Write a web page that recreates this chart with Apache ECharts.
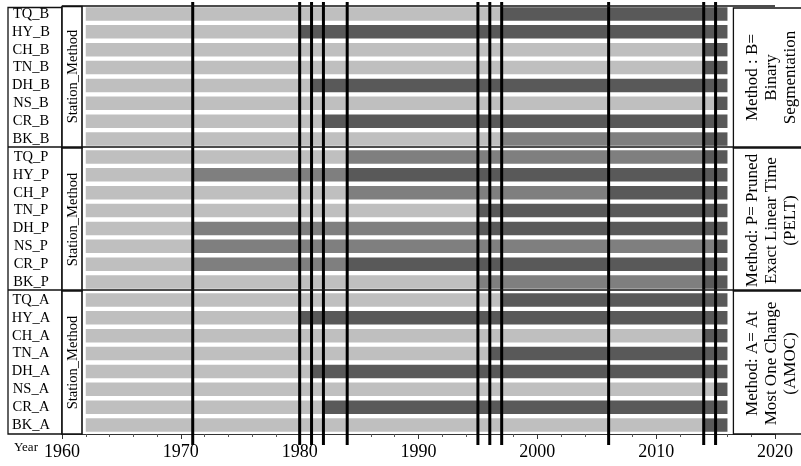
<!DOCTYPE html>
<html>
<head>
<meta charset="utf-8">
<script src="https://cdn.jsdelivr.net/npm/echarts@6/dist/echarts.min.js"></script>
<style>
html,body{margin:0;padding:0;background:#fff;}
#chart{width:801px;height:466px;}
</style>
</head>
<body>
<div id="chart"></div>
<script>
// ---------------- data ----------------
const stations = ['TQ', 'HY', 'CH', 'TN', 'DH', 'NS', 'CR', 'BK'];
const methods = ['B', 'P', 'A'];
const methodTitles = [
  'Method : B=\nBinary\nSegmentation',
  'Method: P= Pruned\nExact Linear Time\n(PELT)',
  'Method: A= At\nMost One Change\n(AMOC)'
];
const startYear = 1962;
const endYear = 2016;
const changeYears = [1971, 1980, 1981, 1982, 1984, 1995, 1996, 1997, 2006, 2014, 2015];
const xTicks = [1960, 1970, 1980, 1990, 2000, 2010, 2020];
// each row: list of [segment start year, level] ; level L=light, M=medium, D=dark
const segB = [
  [[1962, 'L'], [1997, 'D']],               // TQ_B
  [[1962, 'L'], [1980, 'D']],               // HY_B
  [[1962, 'L'], [2014, 'D']],               // CH_B
  [[1962, 'L'], [2014, 'D']],               // TN_B
  [[1962, 'L'], [1981, 'D']],               // DH_B
  [[1962, 'L'], [2015, 'D']],               // NS_B
  [[1962, 'L'], [1982, 'D']],               // CR_B
  [[1962, 'L'], [1997, 'M'], [2014, 'D']]   // BK_B
];
const segP = [
  [[1962, 'L'], [1984, 'M'], [2014, 'D']],  // TQ_P
  [[1962, 'L'], [1971, 'M'], [1984, 'D']],  // HY_P
  [[1962, 'L'], [1984, 'M'], [2006, 'D']],  // CH_P
  [[1962, 'L'], [1995, 'D']],               // TN_P
  [[1962, 'L'], [1971, 'M'], [1995, 'D']],  // DH_P
  [[1962, 'L'], [1971, 'M'], [2015, 'D']],  // NS_P
  [[1962, 'L'], [1971, 'M'], [1984, 'D']],  // CR_P
  [[1962, 'L'], [1995, 'M'], [2014, 'D']]   // BK_P
];
const segA = [
  [[1962, 'L'], [1997, 'D']],               // TQ_A
  [[1962, 'L'], [1980, 'D']],               // HY_A
  [[1962, 'L'], [2014, 'D']],               // CH_A
  [[1962, 'L'], [1996, 'D']],               // TN_A
  [[1962, 'L'], [1981, 'D']],               // DH_A
  [[1962, 'L'], [2015, 'D']],               // NS_A
  [[1962, 'L'], [1982, 'D']],               // CR_A
  [[1962, 'L'], [2014, 'D']]                // BK_A
];
const levelColors = { L: '#bfbfbf', M: '#7f7f7f', D: '#595959' };

// --------------- build ---------------
const allSegs = [segB, segP, segA];
const rowLabels = [];
const barData = [];
const levelList = [];
methods.forEach((m, mi) => {
  stations.forEach((s, si) => {
    const row = rowLabels.length;
    rowLabels.push(s + '_' + m);
    const segs = allSegs[mi][si];
    segs.forEach((sg, k) => {
      const e = k + 1 < segs.length ? segs[k + 1][0] : endYear;
      barData.push([sg[0], e, row]);
      levelList.push(sg[1]);
    });
  });
});

const SERIF = '"Liberation Serif", "Times New Roman", serif';
const chart = echarts.init(document.getElementById('chart'), null, { renderer: 'canvas' });

const option = {
  animation: false,
  backgroundColor: '#fff',
  grid: { left: 62, right: 26, top: 5, bottom: 32, containLabel: false },
  xAxis: {
    type: 'value', min: 1960, max: 2020, interval: 10,
    axisLine: { show: true, lineStyle: { color: '#333', width: 1 } },
    axisTick: { show: true, length: 5, lineStyle: { color: '#333' } },
    minorTick: { show: true, splitNumber: 5, length: 3, lineStyle: { color: '#555' } },
    splitLine: { show: false },
    axisLabel: {
      margin: 9, color: '#000', fontFamily: SERIF, fontSize: 18,
      formatter: v => (xTicks.indexOf(v) >= 0 ? String(v) : '')
    }
  },
  yAxis: {
    type: 'category', data: rowLabels, inverse: true,
    axisLine: { show: false }, axisTick: { show: false }, splitLine: { show: false },
    axisLabel: { interval: 0, align: 'center', margin: 31, color: '#000', fontFamily: SERIF, fontSize: 14.5 }
  },
  series: [
    {
      type: 'custom',
      data: barData,
      encode: { x: [0, 1], y: 2 },
      renderItem: function (params, api) {
        const s = api.value(0), e = api.value(1), r = api.value(2);
        const p0 = api.coord([s, r]);
        const p1 = api.coord([e, r]);
        const h = api.size([0, 1])[1] * 0.75;
        return {
          type: 'rect',
          shape: { x: p0[0], y: p0[1] - h / 2, width: p1[0] - p0[0], height: h },
          style: { fill: levelColors[levelList[params.dataIndex]], stroke: null }
        };
      },
      z: 2
    },
    {
      type: 'custom',
      data: changeYears.map(y => [y]),
      encode: { x: 0 },
      clip: false,
      renderItem: function (params, api) {
        const cs = params.coordSys;
        const x = api.coord([api.value(0), 0])[0];
        return {
          type: 'line',
          shape: { x1: x, y1: cs.y - 3, x2: x, y2: cs.y + cs.height + 11 },
          style: { stroke: '#000', lineWidth: 3 },
          z2: 10
        };
      },
      z: 8
    }
  ]
};
chart.setOption(option);

// ---------- decorations (strips, boxes, separators) ----------
const c0 = chart.convertToPixel({ gridIndex: 0 }, [1960, 0]);
const c1 = chart.convertToPixel({ gridIndex: 0 }, [1960, 1]);
const band = c1[1] - c0[1];
const gx0 = c0[0];
const gx1 = chart.convertToPixel({ gridIndex: 0 }, [2020, 0])[0];
const bx = chart.convertToPixel({ gridIndex: 0 }, [2016.5, 0])[0];
const topY = c0[1] - band / 2;
const panelY = [0, 1, 2, 3].map(k => topY + k * 8 * band);
const bottomY = panelY[3];
const stripR = gx0 + 20;
const lineCol = '#111';

const g = [];
// left label box
g.push({ type: 'rect', z: 50, shape: { x: 8, y: topY + 2.5, width: gx0 - 8, height: bottomY - topY - 2.5 },
  style: { fill: 'none', stroke: lineCol, lineWidth: 1.3 } });
// Station_Method strips
for (let k = 0; k < 3; k++) {
  g.push({ type: 'rect', z: 50, shape: { x: gx0, y: panelY[k] + (k === 0 ? 1.5 : 0), width: stripR - gx0, height: panelY[k + 1] - panelY[k] - (k === 0 ? 1.5 : 0) },
    style: { fill: '#fff', stroke: lineCol, lineWidth: 1.6 } });
  g.push({ type: 'text', z: 51, x: gx0 + 11, y: (panelY[k] + panelY[k + 1]) / 2, rotation: Math.PI / 2,
    style: { text: 'Station_Method', font: '14.5px ' + SERIF, fill: '#000', align: 'center', verticalAlign: 'middle' } });
}
// right strips
for (let k = 0; k < 3; k++) {
  const y0 = panelY[k] + (k === 0 ? 3 : 0);
  g.push({ type: 'rect', z: 50, shape: { x: bx, y: y0, width: 90, height: panelY[k + 1] - y0 },
    style: { fill: '#fff', stroke: lineCol, lineWidth: 1.3 } });
  g.push({ type: 'text', z: 51, x: bx + 38, y: (panelY[k] + panelY[k + 1]) / 2 + 1, rotation: Math.PI / 2,
    style: { text: methodTitles[k], font: '17px ' + SERIF, lineHeight: 19, fill: '#000', align: 'center', verticalAlign: 'middle' } });
}
// top border of plot
g.push({ type: 'line', z: 52, shape: { x1: gx0, y1: topY + 1, x2: gx1, y2: topY + 1 }, style: { stroke: lineCol, lineWidth: 1.6 } });
// panel separators
for (let k = 1; k < 3; k++) {
  g.push({ type: 'line', z: 52, shape: { x1: 8, y1: panelY[k] - 1, x2: 801, y2: panelY[k] - 1 }, style: { stroke: lineCol, lineWidth: 1.6 } });
}
// Year label
g.push({ type: 'text', z: 52, x: 14, y: bottomY + 14, style: { text: 'Year', font: '13px ' + SERIF, fill: '#000', align: 'left', verticalAlign: 'middle' } });

chart.setOption({ graphic: g });
</script>
</body>
</html>
